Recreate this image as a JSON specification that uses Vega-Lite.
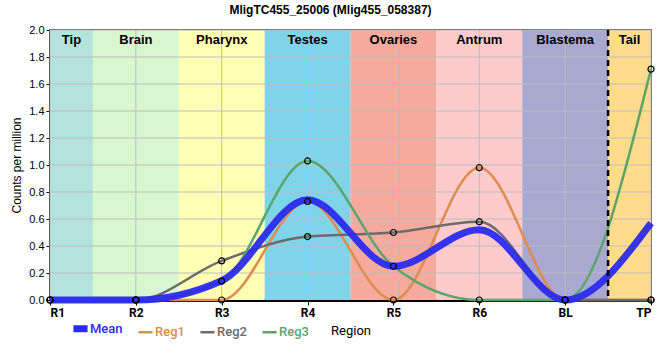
{
  "$schema": "https://vega.github.io/schema/vega-lite/v6.json",
  "autosize": "none",
  "width": 601,
  "height": 270,
  "padding": {"left": 50, "top": 30, "right": 9, "bottom": 60},
  "background": "white",
  "config": {
    "font": "Liberation Sans",
    "view": {"stroke": "black", "strokeWidth": 1.5},
    "axis": {"grid": false, "labelOverlap": false, "labelSeparation": 0}
  },
  "title": {
    "text": "MligTC455_25006 (Mlig455_058387)",
    "fontSize": 12,
    "fontWeight": "bold",
    "font": "Liberation Sans",
    "color": "black",
    "dx": -20,
    "offset": 7
  },
  "datasets": {
    "bands": [
      {"name": "Tip", "start": 0, "end": 0.5, "color": "#b4e3dd"},
      {"name": "Brain", "start": 0.5, "end": 1.5, "color": "#d8f6d0"},
      {"name": "Pharynx", "start": 1.5, "end": 2.5, "color": "#ffffb4"},
      {"name": "Testes", "start": 2.5, "end": 3.5, "color": "#80d4ea"},
      {"name": "Ovaries", "start": 3.5, "end": 4.5, "color": "#f4aa9c"},
      {"name": "Antrum", "start": 4.5, "end": 5.5, "color": "#fdcbcb"},
      {"name": "Blastema", "start": 5.5, "end": 6.5, "color": "#a9a8d0"},
      {"name": "Tail", "start": 6.5, "end": 7, "color": "#fedc8c"}
    ],
    "ygrid": [
      {"v": 0.2}, {"v": 0.4}, {"v": 0.6}, {"v": 0.8}, {"v": 1.0},
      {"v": 1.2}, {"v": 1.4}, {"v": 1.6}, {"v": 1.8}, {"v": 2.0}
    ],
    "expr": [
      {"i": 0, "series": "Mean", "value": 0},
      {"i": 1, "series": "Mean", "value": 0},
      {"i": 2, "series": "Mean", "value": 0.143},
      {"i": 3, "series": "Mean", "value": 0.743},
      {"i": 4, "series": "Mean", "value": 0.25},
      {"i": 5, "series": "Mean", "value": 0.52},
      {"i": 6, "series": "Mean", "value": 0},
      {"i": 7, "series": "Mean", "value": 0.57},
      {"i": 0, "series": "Reg1", "value": 0},
      {"i": 1, "series": "Reg1", "value": 0},
      {"i": 2, "series": "Reg1", "value": 0},
      {"i": 3, "series": "Reg1", "value": 0.73},
      {"i": 4, "series": "Reg1", "value": 0},
      {"i": 5, "series": "Reg1", "value": 0.98},
      {"i": 6, "series": "Reg1", "value": 0},
      {"i": 7, "series": "Reg1", "value": 0},
      {"i": 0, "series": "Reg2", "value": 0},
      {"i": 1, "series": "Reg2", "value": 0},
      {"i": 2, "series": "Reg2", "value": 0.29},
      {"i": 3, "series": "Reg2", "value": 0.47},
      {"i": 4, "series": "Reg2", "value": 0.5},
      {"i": 5, "series": "Reg2", "value": 0.58},
      {"i": 6, "series": "Reg2", "value": 0},
      {"i": 7, "series": "Reg2", "value": 0},
      {"i": 0, "series": "Reg3", "value": 0},
      {"i": 1, "series": "Reg3", "value": 0},
      {"i": 2, "series": "Reg3", "value": 0.14},
      {"i": 3, "series": "Reg3", "value": 1.03},
      {"i": 4, "series": "Reg3", "value": 0.25},
      {"i": 5, "series": "Reg3", "value": 0},
      {"i": 6, "series": "Reg3", "value": 0},
      {"i": 7, "series": "Reg3", "value": 1.71}
    ]
  },
  "layer": [
    {
      "data": {"name": "bands"},
      "mark": {"type": "rect"},
      "encoding": {
        "x": {
          "field": "start", "type": "quantitative",
          "scale": {"domain": [0, 7], "nice": false, "zero": false},
          "axis": {
            "values": [0, 1, 2, 3, 4, 5, 6, 7],
            "labelExpr": "['R1','R2','R3','R4','R5','R6','BL','TP'][datum.value]",
            "title": "Region",
            "titleFontSize": 13,
            "titleFontWeight": "normal",
            "titleFont": "Roboto",
            "titleColor": "black",
            "titlePadding": 6,
            "labelFontSize": 12,
            "labelFontWeight": "bold",
            "labelFont": "Roboto",
            "labelColor": "black",
            "labelPadding": 2,
            "domainColor": "black",
            "domainWidth": 3,
            "tickColor": "black",
            "tickSize": 5,
            "tickWidth": 1
          }
        },
        "x2": {"field": "end"},
        "y": {"datum": 0, "type": "quantitative", "scale": {"domain": [0, 2], "nice": false}},
        "y2": {"datum": 2},
        "fill": {"field": "color", "type": "nominal", "scale": null}
      }
    },
    {
      "data": {"name": "ygrid"},
      "mark": {"type": "rule", "stroke": "#bdbdbd", "strokeWidth": 1, "opacity": 1},
      "encoding": {
        "x": {"datum": 0, "type": "quantitative"},
        "x2": {"datum": 7},
        "y": {"field": "v", "type": "quantitative"}
      }
    },
    {
      "data": {"name": "expr"},
      "transform": [{"filter": "datum.series == 'Mean'"}],
      "mark": {"type": "rule", "stroke": "#bdbdbd", "strokeWidth": 1, "opacity": 1},
      "encoding": {
        "x": {"field": "i", "type": "quantitative"},
        "y": {"datum": 0, "type": "quantitative"},
        "y2": {"datum": 2}
      }
    },
    {
      "data": {"name": "expr"},
      "transform": [{"filter": "datum.series != 'Mean'"}],
      "mark": {"type": "line", "interpolate": "monotone", "strokeWidth": 2.5},
      "encoding": {
        "x": {"field": "i", "type": "quantitative"},
        "y": {"field": "value", "type": "quantitative",
          "axis": {
            "values": [0, 0.2, 0.4, 0.6, 0.8, 1.0, 1.2, 1.4, 1.6, 1.8, 2.0],
            "tickCount": 11,
            "format": ".1f",
            "title": "Counts per million",
            "titleFontSize": 12,
            "titleFontWeight": "normal",
            "titleColor": "black",
            "titlePadding": 5,
            "labelFontSize": 11,
            "labelColor": "black",
            "labelPadding": 2,
            "labelOverlap": false,
            "labelFlush": false,
            "domainColor": "black",
            "domainWidth": 3,
            "tickColor": "black",
            "tickSize": 4
          }
        },
        "color": {"field": "series", "type": "nominal",
          "scale": {"domain": ["Mean", "Reg1", "Reg2", "Reg3"], "range": ["#2b2bef", "#e08c4c", "#6b6b6b", "#5ba56b"]},
          "legend": {
            "title": null, "orient": "none", "direction": "horizontal",
            "legendX": 24, "legendY": 292, "padding": 0,
            "symbolType": "stroke", "symbolSize": 200,
            "labelFontSize": 13, "labelFont": "Roboto", "labelFontWeight": 500,
            "columnPadding": 10, "labelOffset": 3,
            "encode": {
              "labels": {"update": {"fill": {"scale": "color", "field": "value"}}},
              "symbols": {"update": {"strokeWidth": {"signal": "datum.value == 'Mean' ? 7 : 2.5"}}}
            }
          }
        }
      }
    },
    {
      "data": {"name": "expr"},
      "transform": [{"filter": "datum.series == 'Mean'"}],
      "mark": {"type": "line", "interpolate": "monotone", "opacity": 0.95, "strokeWidth": 7},
      "encoding": {
        "x": {"field": "i", "type": "quantitative"},
        "y": {"field": "value", "type": "quantitative"},
        "color": {"field": "series", "type": "nominal"}
      }
    },
    {
      "data": {"name": "bands"},
      "transform": [{"filter": "datum.name == 'Tail'"}],
      "mark": {"type": "rule", "color": "black", "strokeWidth": 2.5, "strokeDash": [6, 4]},
      "encoding": {"x": {"field": "start", "type": "quantitative"}}
    },
    {
      "data": {"name": "expr"},
      "transform": [{"filter": "datum.series != 'Mean'"}],
      "mark": {"type": "point", "shape": "circle", "size": 36, "filled": false, "stroke": "black", "strokeWidth": 1.2, "opacity": 1},
      "encoding": {
        "x": {"field": "i", "type": "quantitative"},
        "y": {"field": "value", "type": "quantitative"}
      }
    },
    {
      "data": {"name": "bands"},
      "transform": [{"calculate": "(datum.start + datum.end) / 2", "as": "mid"}],
      "mark": {"type": "text", "baseline": "top", "dy": 4, "fontSize": 13, "fontWeight": "bold", "font": "Liberation Sans", "color": "black"},
      "encoding": {
        "x": {"field": "mid", "type": "quantitative"},
        "y": {"datum": 2, "type": "quantitative"},
        "text": {"field": "name", "type": "nominal"}
      }
    }
  ]
}
